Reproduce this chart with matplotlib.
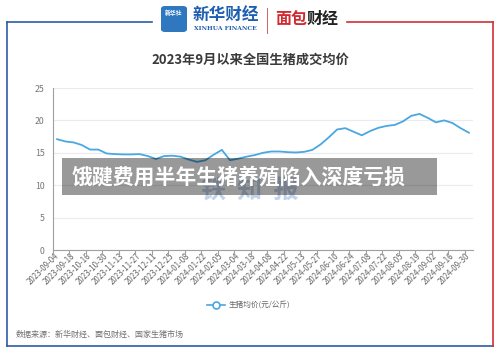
import matplotlib
matplotlib.use('Agg')
import matplotlib.pyplot as plt
from matplotlib.lines import Line2D
from matplotlib.patches import Rectangle, FancyBboxPatch

plt.rcParams['font.family'] = ['Noto Sans CJK SC', 'DejaVu Sans']

# weekly national live hog price (yuan/kg), Sept 2023 - Sept 2024
dates = ['2023-09-04', '2023-09-11', '2023-09-18', '2023-10-09', '2023-10-16', '2023-10-23',
         '2023-10-30', '2023-11-06', '2023-11-13', '2023-11-20', '2023-11-27', '2023-12-04',
         '2023-12-11', '2023-12-18', '2023-12-25', '2024-01-01', '2024-01-08', '2024-01-15',
         '2024-01-22', '2024-01-29', '2024-02-05', '2024-02-26', '2024-03-04', '2024-03-11',
         '2024-03-18', '2024-04-01', '2024-04-08', '2024-04-15', '2024-04-22', '2024-05-06',
         '2024-05-13', '2024-05-20', '2024-05-27', '2024-06-03', '2024-06-10', '2024-06-17',
         '2024-06-24', '2024-07-01', '2024-07-08', '2024-07-15', '2024-07-22', '2024-07-29',
         '2024-08-05', '2024-08-12', '2024-08-19', '2024-08-26', '2024-09-02', '2024-09-09',
         '2024-09-16', '2024-09-23', '2024-09-30']
prices = [17.1, 16.75, 16.6, 16.2, 15.5, 15.5, 14.9, 14.8, 14.75, 14.75,
          14.8, 14.5, 14.05, 14.5, 14.55, 14.4, 13.95, 13.6, 13.85, 14.7,
          15.45, 13.85, 14.1, 14.4, 14.65, 15.0, 15.2, 15.2, 15.1, 15.05,
          15.15, 15.45, 16.3, 17.4, 18.6, 18.8, 18.25, 17.7, 18.35, 18.85,
          19.15, 19.3, 19.85, 20.7, 21.0, 20.4, 19.7, 20.0, 19.6, 18.8, 18.1]
yticks = [0, 5, 10, 15, 20, 25]

title = '2023年9月以来全国生猪成交均价'
series_name = '生猪均价(元/公斤)'
source = '数据来源：新华财经、面包财经、国家生猪市场'
banner = '饿踺费用半年生猪养殖陷入深度亏损'

W, H = 500, 353
fig = plt.figure(figsize=(W / 100, H / 100), dpi=100)


def fx(x):
    return x / W


def fy(y):
    return 1 - y / H


def fline(xs, ys, **kw):
    fig.add_artist(Line2D([fx(v) for v in xs], [fy(v) for v in ys],
                          transform=fig.transFigure, **kw))


# frame
blue = '#2b5ca8'
red = '#cf2f38'
fline([7, 152], [22, 22], color=blue, lw=1.2)
fline([7, 7], [22, 345.5], color=blue, lw=1.2)
fline([7, 493], [345.5, 345.5], color=blue, lw=1.2)
fline([347, 493], [22, 22], color=red, lw=1.2)
fline([493, 493], [22, 345.5], color=red, lw=1.2)

# logos
fig.add_artist(FancyBboxPatch((fx(161), fy(32)), fx(26), 26 / H, boxstyle='round,pad=0,rounding_size=0.008',
                              transform=fig.transFigure, facecolor='#2f78c0', edgecolor='none'))
fig.text(fx(174), fy(13), '新华社', color='white', fontsize=4.2, ha='center', va='center', weight='bold')
fig.text(fx(226), fy(15), '新华财经', color='#1f5fb0', fontsize=12, ha='center', va='center',
         weight='bold', style='italic')
fig.text(fx(225), fy(29), 'XINHUA FINANCE', color='#1f5fb0', fontsize=4.3, ha='center', va='center',
         family='DejaVu Serif', weight='bold')
fline([267, 267], [8, 33], color='#c84a4a', lw=0.6)
fig.text(fx(275), fy(19), '面包', color='#d02a30', fontsize=11.5, ha='left', va='center', weight='black')
fig.text(fx(307), fy(19), '财经', color='#222222', fontsize=11.5, ha='left', va='center', weight='black')

fig.text(0.5, fy(60), title, fontsize=9.5, weight='bold', color='#3a3a3a', ha='center', va='center')

# chart
ax = fig.add_axes([fx(53), fy(250), fx(473) - fx(53), (250 - 88) / H])
x = list(range(len(prices)))
ax.plot(x, prices, color='#4aa7e0', lw=1.3, zorder=3)
ax.set_xlim(-0.5, len(prices) - 0.5)
ax.set_ylim(0, 25)
ax.set_yticks(yticks)
ax.yaxis.grid(True, color='#e8ebf2', lw=0.8)
ax.set_axisbelow(True)
for s in ['top', 'right']:
    ax.spines[s].set_visible(False)
ax.spines['left'].set_color('#a0a0a0')
ax.spines['bottom'].set_color('#a0a0a0')
ax.spines['left'].set_linewidth(0.8)
ax.spines['bottom'].set_linewidth(0.8)
ax.tick_params(axis='y', length=0, labelsize=6.3, labelcolor='#777777', pad=6)

lab_pos = x[::2]
ax.set_xticks(lab_pos)
ax.set_xticklabels(dates[::2], rotation=45, ha='right', va='center', rotation_mode='anchor',
                   fontsize=5.7, color='#666666')
ax.tick_params(axis='x', length=0, pad=3)
ax.set_xticks([p - 0.5 for p in range(0, len(prices) + 1, 2)], minor=True)
ax.tick_params(axis='x', which='minor', length=3.5, color='#a0a0a0', width=0.8)

# watermark and overlay banner
fig.text(fx(250), fy(191), '铁  知  报', fontsize=18, weight='bold', color='#c2d3ec',
         ha='center', va='center', zorder=5)
fig.add_artist(Rectangle((fx(62), fy(195)), fx(437) - fx(62), 37 / H, transform=fig.transFigure,
                         facecolor='black', alpha=0.4, edgecolor='none', zorder=6))
fig.text(fx(72), fy(177), banner, fontsize=15, weight='bold', color='white',
         ha='left', va='center', zorder=7)

# legend
fline([207, 225], [305, 305], color='#4aa7e0', lw=1.2)
fig.add_artist(Line2D([fx(216)], [fy(305)], transform=fig.transFigure, marker='o', ms=5,
                      mfc='white', mec='#4aa7e0', mew=1.2))
fig.text(fx(229), fy(305), series_name, fontsize=5.5, color='#666666', ha='left', va='center')

fig.text(fx(16), fy(334), source, fontsize=5.8, color='#707070', ha='left', va='center')

fig.savefig('out.png', dpi=100)
